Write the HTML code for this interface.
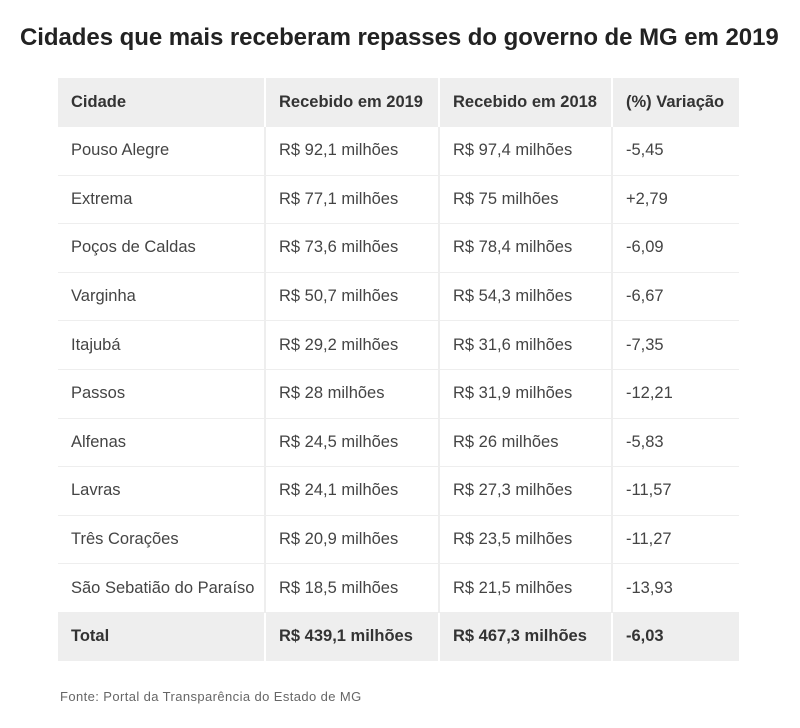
<!DOCTYPE html>
<html><head><meta charset="utf-8"><style>
body{margin:0;width:800px;height:728px;background:#fff;font-family:"Liberation Sans","DejaVu Sans",sans-serif;position:relative;overflow:hidden;color:#333}
h1{position:absolute;left:20px;top:24px;margin:0;font-size:24px;font-weight:bold;color:#222;letter-spacing:-0.05px;white-space:nowrap}
table{position:absolute;left:58px;top:78px;border-collapse:collapse;table-layout:fixed;width:681px}
td{height:47.6px;padding:0 0 0 13px;font-size:16.5px;border-right:2px solid #eee;border-bottom:1.5px solid #eee;white-space:nowrap;color:#444;letter-spacing:0}
td:last-child{border-right:none}
tr.h td{background:#eee;font-weight:bold;color:#333;border-right:2px solid #fff;border-bottom:none}
tr.h td:last-child{border-right:none}
.f{position:absolute;left:60px;top:689px;font-size:13px;letter-spacing:0.4px;color:#666}
</style></head><body>
<h1>Cidades que mais receberam repasses do governo de MG em 2019</h1>
<table>
<colgroup><col style="width:207px"><col style="width:174px"><col style="width:173px"><col style="width:127px"></colgroup>
<tr class="h"><td style="height:49px">Cidade</td><td>Recebido em 2019</td><td>Recebido em 2018</td><td>(%) Variação</td></tr>
<tr><td>Pouso Alegre</td><td>R$ 92,1 milhões</td><td>R$ 97,4 milhões</td><td>-5,45</td></tr>
<tr><td>Extrema</td><td>R$ 77,1 milhões</td><td>R$ 75 milhões</td><td>+2,79</td></tr>
<tr><td>Poços de Caldas</td><td>R$ 73,6 milhões</td><td>R$ 78,4 milhões</td><td>-6,09</td></tr>
<tr><td>Varginha</td><td>R$ 50,7 milhões</td><td>R$ 54,3 milhões</td><td>-6,67</td></tr>
<tr><td>Itajubá</td><td>R$ 29,2 milhões</td><td>R$ 31,6 milhões</td><td>-7,35</td></tr>
<tr><td>Passos</td><td>R$ 28 milhões</td><td>R$ 31,9 milhões</td><td>-12,21</td></tr>
<tr><td>Alfenas</td><td>R$ 24,5 milhões</td><td>R$ 26 milhões</td><td>-5,83</td></tr>
<tr><td>Lavras</td><td>R$ 24,1 milhões</td><td>R$ 27,3 milhões</td><td>-11,57</td></tr>
<tr><td>Três Corações</td><td>R$ 20,9 milhões</td><td>R$ 23,5 milhões</td><td>-11,27</td></tr>
<tr><td>São Sebatião do Paraíso</td><td>R$ 18,5 milhões</td><td>R$ 21,5 milhões</td><td>-13,93</td></tr>
<tr class="h"><td>Total</td><td>R$ 439,1 milhões</td><td>R$ 467,3 milhões</td><td>-6,03</td></tr>
</table>
<div class="f">Fonte: Portal da Transparência do Estado de MG</div>
</body></html>
